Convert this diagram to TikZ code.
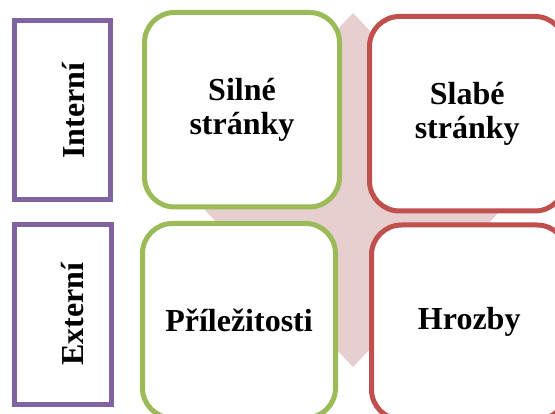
\documentclass[tikz,border=0pt]{standalone}
\usepackage{fontspec}
\setmainfont{Liberation Serif}
\definecolor{swotgreen}{RGB}{155,187,89}
\definecolor{swotred}{RGB}{192,80,77}
\definecolor{swotpurple}{RGB}{128,100,162}
\definecolor{swotpink}{RGB}{231,207,208}
\begin{document}
\begin{tikzpicture}[x=1pt,y=-1pt,
  labelfont/.style={font=\fontsize{32}{34}\selectfont\bfseries},
  quad/.style={draw, line width=5pt, rounded corners=30pt, fill=white,
    minimum width=195pt, minimum height=194.5pt, inner sep=0pt,
    align=center, labelfont},
  side/.style={draw=swotpurple, line width=5pt, fill=white, inner sep=0pt},
  sidelabel/.style={rotate=90, anchor=base, inner sep=0pt, labelfont}]
% page
\fill[white] (0,0) rectangle (555,414);
\useasboundingbox (0,0) rectangle (555,414);
% background diamond
\fill[swotpink] (353,13) -- (520,190) -- (353,367) -- (186,190) -- cycle;
% row headers
\node[side, minimum width=96pt, minimum height=179pt] (internal) at (62.5,110) {};
\node[sidelabel] (internallabel) at (84,110.5) {Interní};
\node[side, minimum width=96.5pt, minimum height=180pt] (external) at (62.75,315) {};
\node[sidelabel] (externallabel) at (83.5,314) {Externí};
% SWOT quadrants
\node[quad, draw=swotgreen] (strengths) at (242,109.75) {Silné\\stránky};
\node[quad, draw=swotred, minimum width=195.5pt] (weaknesses) at (467.25,113.75) {Slabé\\stránky};
\node[quad, draw=swotgreen, minimum width=193pt] (opportunities) at (239,320.75) {Příležitosti};
\node[quad, draw=swotred, minimum width=195.5pt] (threats) at (469.25,322.25) {Hrozby};
\end{tikzpicture}
\end{document}
